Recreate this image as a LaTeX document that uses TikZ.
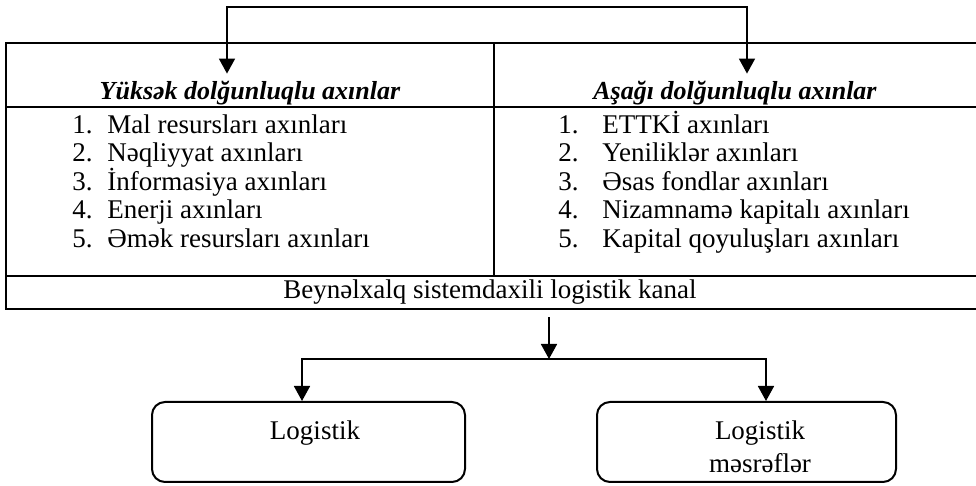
\documentclass[tikz,border=0pt]{standalone}
\usepackage{fontspec}
\setmainfont{Liberation Serif}
\usetikzlibrary{arrows.meta}
\begin{document}
\begin{tikzpicture}[x=0.5pt,y=-0.5pt,
  grid/.style={line width=1.15pt},
  conn/.style={line width=0.85pt},
  tip/.style={-{Triangle[length=7.5pt,width=8pt]}},
  twotips/.style={{Triangle[length=7.5pt,width=8pt]}-{Triangle[length=7.5pt,width=8pt]}},
  head/.style={font=\fontsize{13}{15}\selectfont\bfseries\itshape,
    text height=9.5pt, text depth=3pt, inner sep=3.5pt},
  item/.style={font=\fontsize{13.5}{16}\selectfont, anchor=west,
    inner sep=0pt, text height=9.5pt, text depth=3pt},
  body/.style={font=\fontsize{13.5}{16.5}\selectfont},
  roundbox/.style={draw, line width=1pt, rounded corners=6.5pt,
    minimum height=40pt, inner sep=0pt}
]
\useasboundingbox (0,0) rectangle (976,486);

% table frame and rules
\draw[grid] (6,43) rectangle (982,309);
\draw[grid] (6,107) -- (982,107);
\draw[grid] (6,276) -- (982,276);
\draw[line width=0.8pt] (494,43) -- (494,276);

% column headings
\node[head] (hL) at (250,93.5) {Yüksək dolğunluqlu axınlar};
\node[head] (hR) at (735,93.5) {Aşağı dolğunluqlu axınlar};

% left list
\foreach \t [count=\i] in {Mal resursları axınları, Nəqliyyat axınları,
    İnformasiya axınları, Enerji axınları, Əmək resursları axınları} {
  \node[item] (ln\i) at (72,98.5+28.5*\i) {\i.};
  \node[item] (lt\i) at (107,98.5+28.5*\i) {\t};
}

% right list
\foreach \t [count=\i] in {ETTKİ axınları, Yeniliklər axınları,
    Əsas fondlar axınları, Nizamnamə kapitalı axınları,
    Kapital qoyuluşları axınları} {
  \node[item] (rn\i) at (558,98.5+28.5*\i) {\i.};
  \node[item] (rt\i) at (602,98.5+28.5*\i) {\t};
}

% bottom row of the table
\node[body, minimum width=487pt, minimum height=16.5pt, inner sep=0pt]
  (chan) at (490,292.5) {Beynəlxalq sistemdaxili logistik kanal};

% result boxes
\node[roundbox, minimum width=156.5pt] (lbox) at (308.5,442) {};
\node[roundbox, minimum width=149.5pt] (rbox) at (746.5,442) {};
\node[body] (ltext) at (315,433) {Logistik};
\node[body, align=center] (rtext) at (760,446.5) {Logistik\\məsrəflər};

% top connector into both headings
\coordinate (tl) at (227,7);
\coordinate (tr) at (747,7);
\draw[conn, twotips] (tl |- hL.north) -- (tl) -- (tr) -- (tr |- hR.north);

% channel splitting into the two boxes
\coordinate (split) at (549,359);
\draw[conn, tip, shorten <=4pt] (split |- chan.south) -- (split);
\draw[conn, twotips] ([xshift=-3.25pt]lbox.north) |- (split)
  -| ([xshift=9.75pt]rbox.north);
\end{tikzpicture}
\end{document}
